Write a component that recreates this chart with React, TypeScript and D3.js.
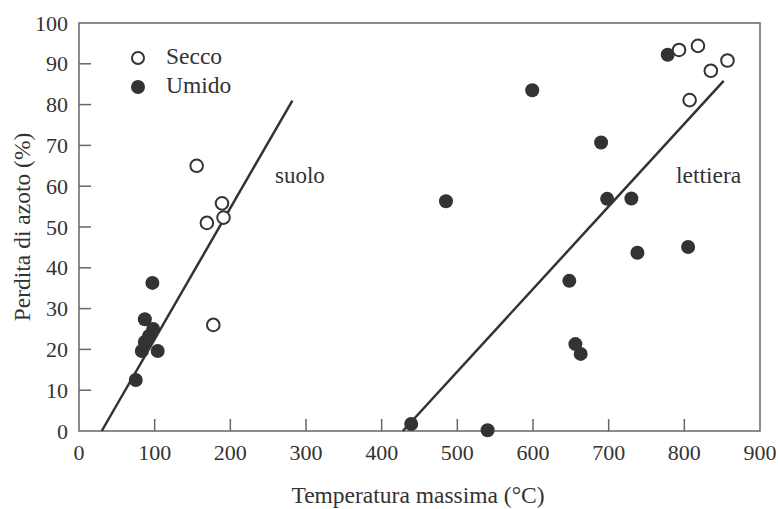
import React from "react";
import * as d3 from "d3";

const xTicks = [0, 100, 200, 300, 400, 500, 600, 700, 800, 900];
const yTicks = [0, 10, 20, 30, 40, 50, 60, 70, 80, 90, 100];

// Secco (open circles): [temperature, loss]
const seccoX = [155.5, 169, 189, 191, 177.5, 793, 818, 835, 857, 807];
const seccoY = [65, 51, 55.8, 52.3, 26, 93.4, 94.4, 88.3, 90.8, 81.1];

// Umido (filled)
const umidoX = [75, 83, 104, 87, 92.5, 98, 87, 97, 439, 540, 485, 599, 690, 698, 648, 656, 663, 730, 738, 805, 778];
const umidoY = [12.5, 19.6, 19.6, 21.8, 23.3, 25, 27.4, 36.3, 1.7, 0.2, 56.3, 83.5, 70.7, 56.9, 36.8, 21.3, 18.9, 57, 43.7, 45.1, 92.2];

// Regression lines
const suoloLineX = [30, 282];
const suoloLineY = [0, 81];
const lettieraLineX = [428, 852];
const lettieraLineY = [0, 85.8];

const W = 778;
const H = 509;
const left = 79, right = 760, top = 23, bottom = 431;
const FONT = "'Liberation Serif', 'Times New Roman', serif";
const INK = "#333";
const AXIS = "#666";

export default function App() {
  const x = d3.scaleLinear().domain([0, 900]).range([left, right]);
  const y = d3.scaleLinear().domain([0, 100]).range([bottom, top]);
  const line = d3.line<[number, number]>().x(d => x(d[0])).y(d => y(d[1]));
  const suolo: [number, number][] = suoloLineX.map((v, i) => [v, suoloLineY[i]]);
  const lettiera: [number, number][] = lettieraLineX.map((v, i) => [v, lettieraLineY[i]]);

  return (
    <svg width={W} height={H} style={{ position: "absolute", left: 0, top: 0 }} fontFamily={FONT}>
      <rect x={0} y={0} width={W} height={H} fill="#fff" />
      {/* frame */}
      <rect x={left} y={top} width={right - left} height={bottom - top} fill="none" stroke={AXIS} strokeWidth={1.5} />
      {/* x ticks */}
      {xTicks.map(t => (
        <g key={"x" + t}>
          {t > 0 && t < 900 && <line x1={x(t)} x2={x(t)} y1={bottom} y2={bottom - 12} stroke={AXIS} strokeWidth={1.5} />}
          <text x={x(t)} y={460} textAnchor="middle" fontSize={22} fill={INK}>{t}</text>
        </g>
      ))}
      {/* y ticks */}
      {yTicks.map(t => (
        <g key={"y" + t}>
          {t > 0 && t < 100 && <line x1={left} x2={left + 12} y1={y(t)} y2={y(t)} stroke={AXIS} strokeWidth={1.5} />}
          <text x={68} y={y(t) + 7.5} textAnchor="end" fontSize={22} fill={INK}>{t}</text>
        </g>
      ))}
      {/* axis titles */}
      <text x={418} y={503} textAnchor="middle" fontSize={23.5} fill={INK}>Temperatura massima (°C)</text>
      <text transform={`translate(30,${(top + bottom) / 2}) rotate(-90)`} textAnchor="middle" fontSize={23.5} fill={INK}>Perdita di azoto (%)</text>
      {/* regression lines */}
      <path d={line(suolo) || ""} fill="none" stroke={INK} strokeWidth={2.5} />
      <path d={line(lettiera) || ""} fill="none" stroke={INK} strokeWidth={2.5} />
      {/* points */}
      {umidoX.map((v, i) => (
        <circle key={"u" + i} cx={x(v)} cy={y(umidoY[i])} r={7} fill={INK} />
      ))}
      {seccoX.map((v, i) => (
        <circle key={"s" + i} cx={x(v)} cy={y(seccoY[i])} r={6.3} fill="#fff" stroke={INK} strokeWidth={2} />
      ))}
      {/* labels */}
      <text x={275} y={183} fontSize={23} fill={INK}>suolo</text>
      <text x={676} y={183} fontSize={23.5} fill={INK}>lettiera</text>
      {/* legend */}
      <circle cx={138} cy={58} r={6} fill="#fff" stroke={INK} strokeWidth={2} />
      <text x={166} y={64} fontSize={23.5} fill={INK}>Secco</text>
      <circle cx={138} cy={87} r={7} fill={INK} />
      <text x={166} y={93} fontSize={23.5} fill={INK}>Umido</text>
    </svg>
  );
}
